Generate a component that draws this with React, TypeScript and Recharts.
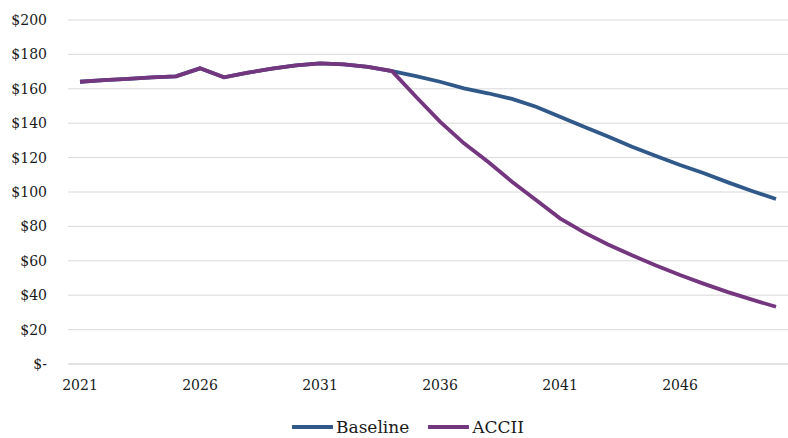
import { LineChart, Line, XAxis, YAxis, CartesianGrid } from 'recharts'

const years = [
  2021, 2022, 2023, 2024, 2025, 2026, 2027, 2028, 2029, 2030,
  2031, 2032, 2033, 2034, 2035, 2036, 2037, 2038, 2039, 2040,
  2041, 2042, 2043, 2044, 2045, 2046, 2047, 2048, 2049, 2050,
]
const baseline = [
  164.1, 165.0, 165.8, 166.7, 167.2, 171.9, 166.7, 169.4, 171.7, 173.6,
  174.8, 174.2, 172.7, 170.3, 167.4, 164.1, 160.3, 157.4, 154.1, 149.6,
  143.8, 138.0, 132.2, 126.3, 120.9, 115.7, 110.9, 105.6, 100.6, 95.9,
]
const accii = [
  164.1, 165.0, 165.8, 166.7, 167.2, 171.9, 166.7, 169.4, 171.7, 173.6,
  174.8, 174.2, 172.7, 170.3, 155.4, 140.9, 128.3, 117.6, 106.0, 95.3,
  84.7, 76.5, 69.5, 63.2, 57.3, 51.7, 46.6, 41.8, 37.4, 33.3,
]
const yTicks = [0, 20, 40, 60, 80, 100, 120, 140, 160, 180, 200]
const xTicks = [2021, 2026, 2031, 2036, 2041, 2046]
const seriesNames = ['Baseline', 'ACCII']

const COLORS = { baseline: '#30598a', accii: '#74367f', grid: '#d9d9d9', text: '#1a1a1a' }
// Liberation Serif is not picked up here, DejaVu Serif is the serif that renders
const FONT = "'DejaVu Serif', serif"

const data = years.map((y, i) => ({ year: y, Baseline: baseline[i], ACCII: accii[i] }))

const fmtMoney = (v: number) => (v === 0 ? '$-' : `$${v}`)

function ChartLegend() {
  const colors = [COLORS.baseline, COLORS.accii]
  return (
    <div style={{ position: 'absolute', top: 414, left: 292, display: 'flex', alignItems: 'center', fontFamily: FONT, fontSize: 17, color: COLORS.text, lineHeight: '26px' }}>
      {seriesNames.map((name, i) => (
        <div key={name} style={{ display: 'flex', alignItems: 'center', marginRight: i === 0 ? 19 : 0 }}>
          <svg width={41} height={6} style={{ marginRight: 3 }}>
            <line x1={1} y1={3} x2={40} y2={3} stroke={colors[i]} strokeWidth={3.8} strokeLinecap="round" />
          </svg>
          <span>{name}</span>
        </div>
      ))}
    </div>
  )
}

export default function App() {
  return (
    <div style={{ position: 'absolute', left: 0, top: 0, width: 788, height: 438, background: '#fff' }}>
      <LineChart width={788} height={438} data={data} margin={{ top: 20, right: 0, left: 0, bottom: 44 }}>
        <CartesianGrid stroke={COLORS.grid} vertical={false} />
        <XAxis
          dataKey="year"
          ticks={xTicks}
          interval={0}
          padding={{ left: 12, right: 12 }}
          tickLine={false}
          axisLine={{ stroke: COLORS.grid }}
          tickSize={0}
          tickMargin={16}
          tick={{ fontFamily: FONT, fontSize: 14, fill: COLORS.text }}
          height={30}
        />
        <YAxis
          domain={[0, 200]}
          ticks={yTicks}
          tickFormatter={fmtMoney}
          width={68}
          tickLine={false}
          axisLine={false}
          tickSize={0}
          tickMargin={21}
          tick={{ fontFamily: FONT, fontSize: 14, fill: COLORS.text }}
        />
        <Line dataKey="Baseline" stroke={COLORS.baseline} strokeWidth={3.8} dot={false} isAnimationActive={false} />
        <Line dataKey="ACCII" stroke={COLORS.accii} strokeWidth={3.8} dot={false} isAnimationActive={false} />
      </LineChart>
      <ChartLegend />
    </div>
  )
}
